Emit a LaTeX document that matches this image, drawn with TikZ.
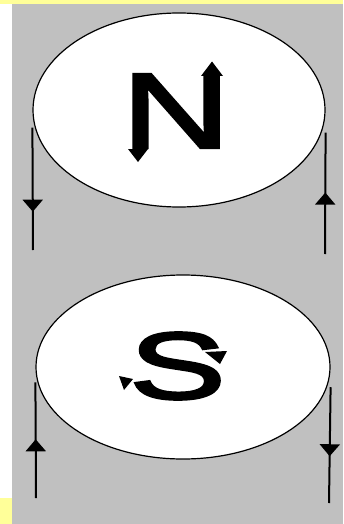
\documentclass[tikz,border=0pt]{standalone}
\usepackage{fontspec}
\setmainfont{Liberation Sans}
\newfontfamily\polefont{Liberation Sans}[FakeBold=2.5]
\usetikzlibrary{shapes.geometric,arrows.meta,decorations.markings}
\definecolor{panel}{HTML}{C0C0C0}
\definecolor{frame}{HTML}{FFFF99}
\tikzset{
  pole/.style={ellipse,draw,fill=white,line width=1.2pt,inner sep=0pt},
  letter/.style={inner sep=0pt,font=\polefont\fontsize{#1}{#1}\selectfont},
  wire/.style={line width=2pt},
  downmark/.style={postaction={decorate},decoration={markings,
    mark=at position #1 with {\arrow{Triangle[width=20pt,length=12pt]}}}},
  upmark/.style={postaction={decorate},decoration={markings,
    mark=at position #1 with {\arrowreversed{Triangle[width=20pt,length=12pt]}}}},
}
\begin{document}
\begin{tikzpicture}[x=1pt,y=-1pt]
   \useasboundingbox (0,0) rectangle (343,524);
   \fill[frame] (0,0) rectangle (343,524);
   \fill[white] (0,4) rectangle (12,498);
   \fill[panel] (12,4) rectangle (343,524);

   % north pole
   \node[pole,minimum width=292pt,minimum height=194pt] (north) at (179,110) {};
   \node[letter=107] (N) at (176,111) {\scalebox{1.4}[1]{N}};
   \fill (128,149) -- (148,149) -- (138,162) -- cycle;
   \fill (201,76) -- (223,76) -- (212,61.5) -- cycle;
   \coordinate (nwend) at (33,250);
   \coordinate (neend) at (325,254);
   \draw[wire,downmark=84pt] (north.187 -| north.west) -- (nwend);
   \draw[wire,upmark=60pt] (north.-9 -| north.east) -- (neend);

   % south pole
   \node[pole,minimum width=294pt,minimum height=184pt] (south) at (183,367) {};
   \node[letter=95] (S) at (177.5,366) {\scalebox{1.52}[1]{S}};
   \fill (205,352) -- (227,351) -- (220,364) -- cycle;
   \fill (119,376) -- (133,379) -- (124,390) -- cycle;
   \coordinate (swend) at (36,498);
   \coordinate (seend) at (329,503);
   \draw[wire,upmark=57pt] (south.186 -| south.west) -- (swend);
   \draw[wire,downmark=69pt] (south.-8 -| south.east) -- (seend);
\end{tikzpicture}
\end{document}
